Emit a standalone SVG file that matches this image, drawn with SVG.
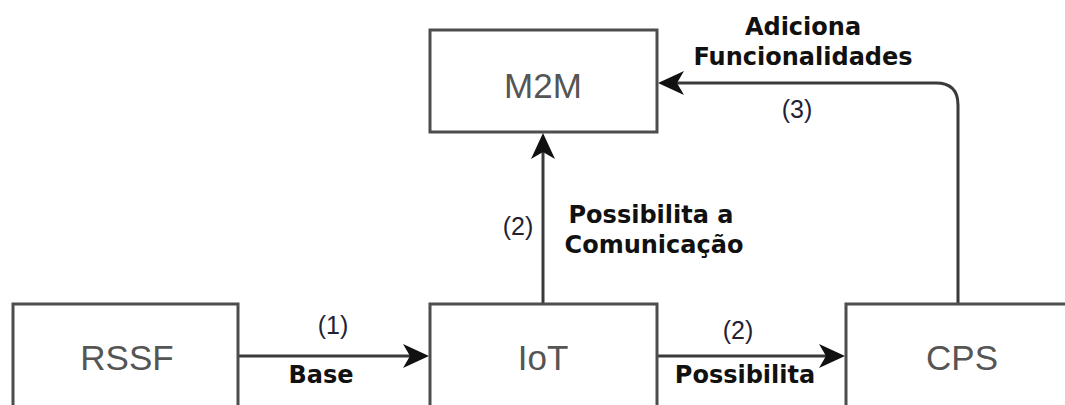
<svg xmlns="http://www.w3.org/2000/svg" width="1065" height="405" viewBox="0 0 1065 405">
  <style>
    .box { fill: #ffffff; stroke: #4d4d4d; stroke-width: 3; }
    .name { font-family: "Liberation Sans", Arial, sans-serif; font-size: 35px; fill: #555555; text-anchor: middle; }
    .edge { fill: none; stroke: #3a3a3a; stroke-width: 3; }
    .lbl { font-family: "DejaVu Sans", Verdana, sans-serif; font-weight: bold; font-size: 24px; fill: #111111; text-anchor: middle; }
    .num { font-family: "Liberation Sans", Arial, sans-serif; font-size: 25px; fill: #222233; text-anchor: middle; }
  </style>
  <defs>
    <marker id="arrow" markerUnits="userSpaceOnUse" markerWidth="28" markerHeight="26" viewBox="0 0 28 26" refX="16" refY="13" orient="auto">
      <path d="M1,1 L27,13 L1,25 L8,13 Z" fill="#111111"/>
    </marker>
  </defs>
  <rect width="1065" height="405" fill="#ffffff"/>

  <g id="edges">
    <!-- RSSF to IoT -->
    <path class="edge" d="M238,356 L418,356" marker-end="url(#arrow)"/>
    <!-- IoT to CPS -->
    <path class="edge" d="M657,356 L834,356" marker-end="url(#arrow)"/>
    <!-- IoT up to M2M -->
    <path class="edge" d="M543,304 L543,144" marker-end="url(#arrow)"/>
    <!-- CPS around to M2M -->
    <path class="edge" d="M958,304 L958,105 Q958,83 936,83 L669,83" marker-end="url(#arrow)"/>
    <text class="num" x="333" y="334">(1)</text>
    <text class="lbl" x="321" y="383">Base</text>
    <text class="num" x="738" y="339">(2)</text>
    <text class="lbl" x="745" y="383">Possibilita</text>
    <text class="num" x="518" y="235">(2)</text>
    <text class="lbl" x="651" y="223">Possibilita a</text>
    <text class="lbl" x="654" y="253">Comunicação</text>
    <text class="lbl" x="803" y="35">Adiciona</text>
    <text class="lbl" x="803" y="65">Funcionalidades</text>
    <text class="num" x="797" y="118">(3)</text>
  </g>

  <g id="node-m2m">
    <rect class="box" x="430" y="30" width="227" height="102"/>
    <text class="name" x="543" y="98">M2M</text>
  </g>
  <g id="node-rssf">
    <rect class="box" x="13" y="304" width="225" height="120"/>
    <text class="name" x="127" y="370">RSSF</text>
  </g>
  <g id="node-iot">
    <rect class="box" x="430" y="304" width="227" height="120"/>
    <text class="name" x="543" y="370">IoT</text>
  </g>
  <g id="node-cps">
    <rect class="box" x="846" y="304" width="240" height="120"/>
    <text class="name" x="962" y="370">CPS</text>
  </g>
</svg>
